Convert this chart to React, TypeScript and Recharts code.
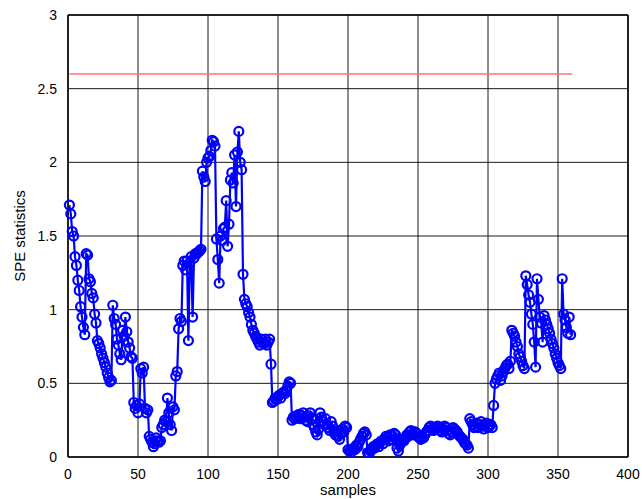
import React from 'react';
import {
  LineChart, Line, XAxis, YAxis, CartesianGrid, ReferenceLine, Label,
} from 'recharts';

// SPE statistic per sample (sample 1..359)
const speValues = [
  1.71, 1.65, 1.53, 1.50, 1.36, 1.30, 1.20, 1.13, 1.02, 0.95,
  0.88, 0.83, 1.38, 1.37, 1.21, 1.19, 1.11, 1.08, 0.97, 0.91,
  0.79, 0.77, 0.74, 0.70, 0.67, 0.64, 0.61, 0.57, 0.54, 0.51,
  0.52, 1.03, 0.94, 0.90, 0.80, 0.76, 0.70, 0.66, 0.86, 0.82,
  0.95, 0.85, 0.78, 0.74, 0.68, 0.67, 0.37, 0.33, 0.35, 0.30,
  0.36, 0.60, 0.57, 0.61, 0.33, 0.30, 0.32, 0.14, 0.12, 0.10,
  0.07, 0.09, 0.13, 0.11, 0.10, 0.11, 0.20, 0.22, 0.25, 0.24,
  0.40, 0.30, 0.22, 0.18, 0.34, 0.32, 0.55, 0.58, 0.87, 0.94,
  0.92, 1.30, 1.33, 1.27, 1.33, 0.79, 1.32, 1.36, 0.95, 1.35,
  1.38, 1.38, 1.39, 1.40, 1.41, 1.94, 1.90, 1.87, 2.00, 2.03,
  2.04, 2.08, 2.15, 2.14, 2.11, 1.48, 1.34, 1.18, 1.50, 1.47,
  1.55, 1.56, 1.74, 1.43, 1.58, 1.88, 1.93, 1.86, 2.05, 1.70,
  2.07, 2.21, 2.00, 1.95, 1.24, 1.07, 1.04, 1.02, 0.98, 0.95,
  0.90, 0.86, 0.84, 0.82, 0.80, 0.78, 0.76, 0.80, 0.78, 0.77,
  0.80, 0.76, 0.78, 0.80, 0.63, 0.37, 0.38, 0.40, 0.39, 0.41,
  0.42, 0.40, 0.43, 0.44, 0.43, 0.45, 0.48, 0.51, 0.50, 0.25,
  0.27, 0.26, 0.28, 0.27, 0.29, 0.26, 0.28, 0.30, 0.27, 0.25,
  0.24, 0.28, 0.30, 0.26, 0.22, 0.20, 0.17, 0.15, 0.19, 0.30,
  0.27, 0.24, 0.22, 0.26, 0.22, 0.20, 0.18, 0.24, 0.21, 0.17,
  0.15, 0.18, 0.14, 0.12, 0.16, 0.19, 0.17, 0.21, 0.20, 0.05,
  0.04, 0.03, 0.05, 0.06, 0.05, 0.08, 0.07, 0.10, 0.12, 0.14,
  0.16, 0.17, 0.15, 0.03, 0.02, 0.04, 0.05, 0.07, 0.06, 0.08,
  0.09, 0.07, 0.10, 0.11, 0.09, 0.12, 0.14, 0.13, 0.11, 0.15,
  0.12, 0.14, 0.16, 0.15, 0.06, 0.04, 0.08, 0.10, 0.12, 0.11,
  0.13, 0.15, 0.14, 0.17, 0.18, 0.16, 0.15, 0.17, 0.16, 0.14,
  0.13, 0.12, 0.14, 0.13, 0.15, 0.17, 0.18, 0.20, 0.21, 0.19,
  0.18, 0.20, 0.19, 0.21, 0.20, 0.18, 0.17, 0.19, 0.21, 0.20,
  0.18, 0.16, 0.15, 0.17, 0.20, 0.19, 0.18, 0.17, 0.15, 0.14,
  0.13, 0.12, 0.10, 0.09, 0.08, 0.06, 0.26, 0.24, 0.22, 0.20,
  0.21, 0.23, 0.20, 0.22, 0.24, 0.21, 0.19, 0.22, 0.23, 0.20,
  0.21, 0.22, 0.20, 0.35, 0.50, 0.53, 0.55, 0.57, 0.52, 0.55,
  0.58, 0.60, 0.62, 0.63, 0.60, 0.65, 0.86, 0.84, 0.82, 0.78,
  0.75, 0.70, 0.68, 0.65, 0.62, 0.60, 1.23, 1.17, 1.10, 1.05,
  0.97, 0.90, 0.78, 0.61, 1.21, 1.07, 0.95, 0.91, 0.78, 0.96,
  0.93, 0.90, 0.87, 0.84, 0.80, 0.77, 0.74, 0.70, 0.67, 0.64,
  0.62, 0.60, 1.21, 0.97, 0.93, 0.88, 0.84, 0.95, 0.83,
];

const xTicks = [0, 50, 100, 150, 200, 250, 300, 350, 400];
const yTicks = [0, 0.5, 1, 1.5, 2, 2.5, 3];

// control limit and the sample range it is drawn over
const speLimit = 2.6;
const limitRange = [1, 360];

const data = speValues.map((spe, i) => ({ sample: i + 1, spe }));

const FONT = '"Liberation Sans", Arial, Helvetica, sans-serif';
const tickStyle = { fontSize: 14, fill: '#000', fontFamily: FONT };

export default function App() {
  return (
    <div style={{ position: 'absolute', left: 0, top: 0, width: 642, height: 499, background: '#fff' }}>
      <LineChart
        width={642}
        height={499}
        data={data}
        margin={{ top: 15, right: 14, bottom: 12, left: 18 }}
      >
        <CartesianGrid stroke="#1a1a1a" strokeWidth={1} />
        <XAxis
          type="number"
          dataKey="sample"
          domain={[0, 400]}
          ticks={xTicks}
          height={30}
          tick={tickStyle}
          tickLine={false}
          axisLine={{ stroke: '#000', strokeWidth: 1.5 }}
          tickMargin={6}
        >
          <Label value="samples" position="bottom" offset={-3} style={{ fontSize: 15, fill: '#000', fontFamily: FONT }} />
        </XAxis>
        <YAxis
          type="number"
          domain={[0, 3]}
          ticks={yTicks}
          width={50}
          tick={tickStyle}
          tickLine={false}
          axisLine={{ stroke: '#000', strokeWidth: 1.5 }}
          tickMargin={5}
          allowDataOverflow
        >
          <Label
            value="SPE statistics"
            angle={-90}
            position="insideLeft"
            offset={2}
            style={{ fontSize: 15, fill: '#000', fontFamily: FONT, textAnchor: 'middle' }}
          />
        </YAxis>
        <ReferenceLine y={3} stroke="#000" strokeWidth={1.5} />
        <ReferenceLine x={400} stroke="#000" strokeWidth={1.5} />
        <ReferenceLine
          segment={[{ x: limitRange[0], y: speLimit }, { x: limitRange[1], y: speLimit }]}
          stroke="#ff7070"
          strokeWidth={1.5}
        />
        <Line
          type="linear"
          dataKey="spe"
          stroke="#0000ff"
          strokeWidth={2.2}
          dot={{ r: 4.5, stroke: '#0000ff', strokeWidth: 2.2, fill: 'none' }}
          isAnimationActive={false}
        />
      </LineChart>
    </div>
  );
}
